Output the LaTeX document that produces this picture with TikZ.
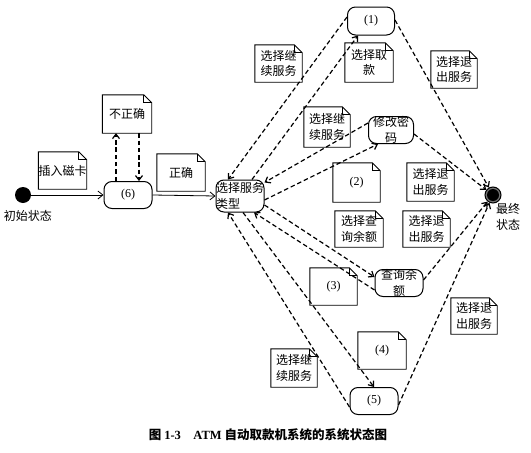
\documentclass[tikz,border=0pt]{standalone}
\usepackage{fontspec}
\setmainfont{Liberation Serif}
\newfontfamily\cjk{Noto Sans CJK SC}
\usetikzlibrary{arrows.meta}
\begin{document}
\begin{tikzpicture}[x=1pt,y=-1pt,
  txt/.style={font=\cjk\fontsize{12}{15.5}\selectfont, align=center, inner sep=0pt},
  notebox/.style={txt, minimum width=47pt, minimum height=37pt},
  statebox/.style={draw, line width=1pt, rounded corners=8pt, minimum width=48pt, minimum height=27pt, inner sep=0pt, txt},
  dsh/.style={line width=1.2pt, dash pattern=on 4.5pt off 2.8pt, -{Straight Barb[length=4.5pt,width=7pt]}},
  sld/.style={line width=0.8pt, -{Straight Barb[length=5pt,width=8pt]}},
  notefr/.style={line width=0.9pt, line join=miter}
]
\useasboundingbox (0,0) rectangle (531,453);
\fill[white] (0,0) rectangle (531,453);

% initial and final states
\node[circle, fill=black, minimum size=16pt, inner sep=0pt] (init) at (23,195) {};
\node[txt] (initlbl) at (28,216) {初始状态};
\node[circle, draw, line width=1pt, minimum size=16pt, inner sep=0pt, fill=black!55] (fin) at (493,195) {};
\fill[black] (fin.center) circle (6pt);
\node[txt, align=left] (finlbl) at (508,217) {最终\\状态};

% states
\node[statebox] (n6) at (128,195) {\rmfamily (6)};
\node[statebox, minimum width=46pt, minimum height=32pt, align=left] (svc) at (240,196) {选择服务\\类型};
\node[statebox, minimum width=47pt, minimum height=28pt] (n1) at (371,21) {\rmfamily (1)};
\node[statebox, minimum width=45pt] (pwd) at (391,130) {修改密\\码};
\node[statebox] (qry) at (399,283) {查询余\\额};
\node[statebox] (n5) at (374,401) {\rmfamily (5)};

% notes
\node[notebox, minimum width=49pt, minimum height=38pt] (wrong) at (127,114) {不正确};
\node[notebox] (insert) at (62.5,170.5) {插入磁卡};
\node[notebox, minimum width=48pt] (ok) at (181,172.5) {正确};
\node[notebox] (cont1) at (278.5,63.5) {选择继\\续服务};
\node[notebox, minimum width=48pt, minimum height=39pt] (take) at (369,62.5) {选择取\\款};
\node[notebox, minimum width=46pt, minimum height=40pt] (cont2) at (327,127) {选择继\\续服务};
\node[notebox, minimum width=46pt] (exit1) at (454,69.5) {选择退\\出服务};
\node[notebox, minimum height=39pt] (p2) at (356.5,182.5) {\rmfamily (2)};
\node[notebox, minimum width=48pt, minimum height=36pt] (query) at (359,229) {选择查\\询余额};
\node[notebox, minimum height=38pt] (exit2) at (430.5,182) {选择退\\出服务};
\node[notebox, minimum height=36pt] (exit3) at (426.5,229) {选择退\\出服务};
\node[notebox] (p3) at (333.5,286.5) {\rmfamily (3)};
\node[notebox, minimum width=46pt, minimum height=36pt] (exit4) at (474,316) {选择退\\出服务};
\node[notebox, minimum width=48pt] (p4) at (382,350.5) {\rmfamily (4)};
\node[notebox, minimum width=46pt, minimum height=38pt] (cont3) at (294,368) {选择继\\续服务};

\foreach \n in {wrong,insert,ok,cont1,take,cont2,exit1,p2,query,exit2,exit3,p3,exit4,p4,cont3}{
  \draw[notefr] (\n.north west) -- ([xshift=-8pt]\n.north east) -- ([yshift=-8pt]\n.north east)
     -- (\n.south east) -- (\n.south west) -- cycle;
  \draw[notefr] ([xshift=-8pt]\n.north east) -- ([xshift=-8pt,yshift=-8pt]\n.north east) -- ([yshift=-8pt]\n.north east);
}

% solid transitions
\draw[sld] (init) -- (n6.west);
\draw[sld] (n6.east) -- (svc.west);

% n6 <-> wrong
\draw[dsh] ([xshift=-12pt]n6.north) -- ([xshift=-11pt]wrong.south);
\draw[dsh] ([xshift=12pt]wrong.south) -- ([xshift=11pt]n6.north);

% svc <-> n1
\draw[dsh] ([yshift=4pt]n1.west) -- ([xshift=-12pt]svc.north);
\draw[dsh] ([xshift=12pt]svc.north) -- ([xshift=-13pt]n1.south);
\draw[dsh] ([yshift=1pt]n1.east) -- (fin);

% svc <-> pwd
\draw[dsh] ([yshift=7pt]pwd.west) -- ([yshift=-3pt]svc.north east);
\draw[dsh] ([yshift=-4pt]svc.east) -- ([xshift=-13pt]pwd.south);
\draw[dsh] ([yshift=-4pt]pwd.east) -- (fin);

% svc <-> qry
\draw[dsh] ([yshift=-9pt]svc.east) -- ([yshift=6pt]qry.west);
\draw[dsh] ([yshift=-7pt]qry.west) -- ([xshift=14pt]svc.south);
\draw[dsh] ([yshift=3pt]qry.east) -- (fin);

% svc <-> n5
\draw[dsh] ([xshift=3pt]svc.south) -- (n5.north);
\draw[dsh] ([yshift=-6pt]n5.west) -- ([xshift=-12pt]svc.south);
\draw[dsh] ([yshift=-4pt]n5.east) -- (fin);

% caption
\node[font=\cjk\bfseries\fontsize{12.5}{15}\selectfont, inner sep=0pt] (cap) at (268,435)
  {图 {\rmfamily\bfseries 1-3}\quad{\rmfamily\bfseries ATM} 自动取款机系统的系统状态图};
\end{tikzpicture}
\end{document}
